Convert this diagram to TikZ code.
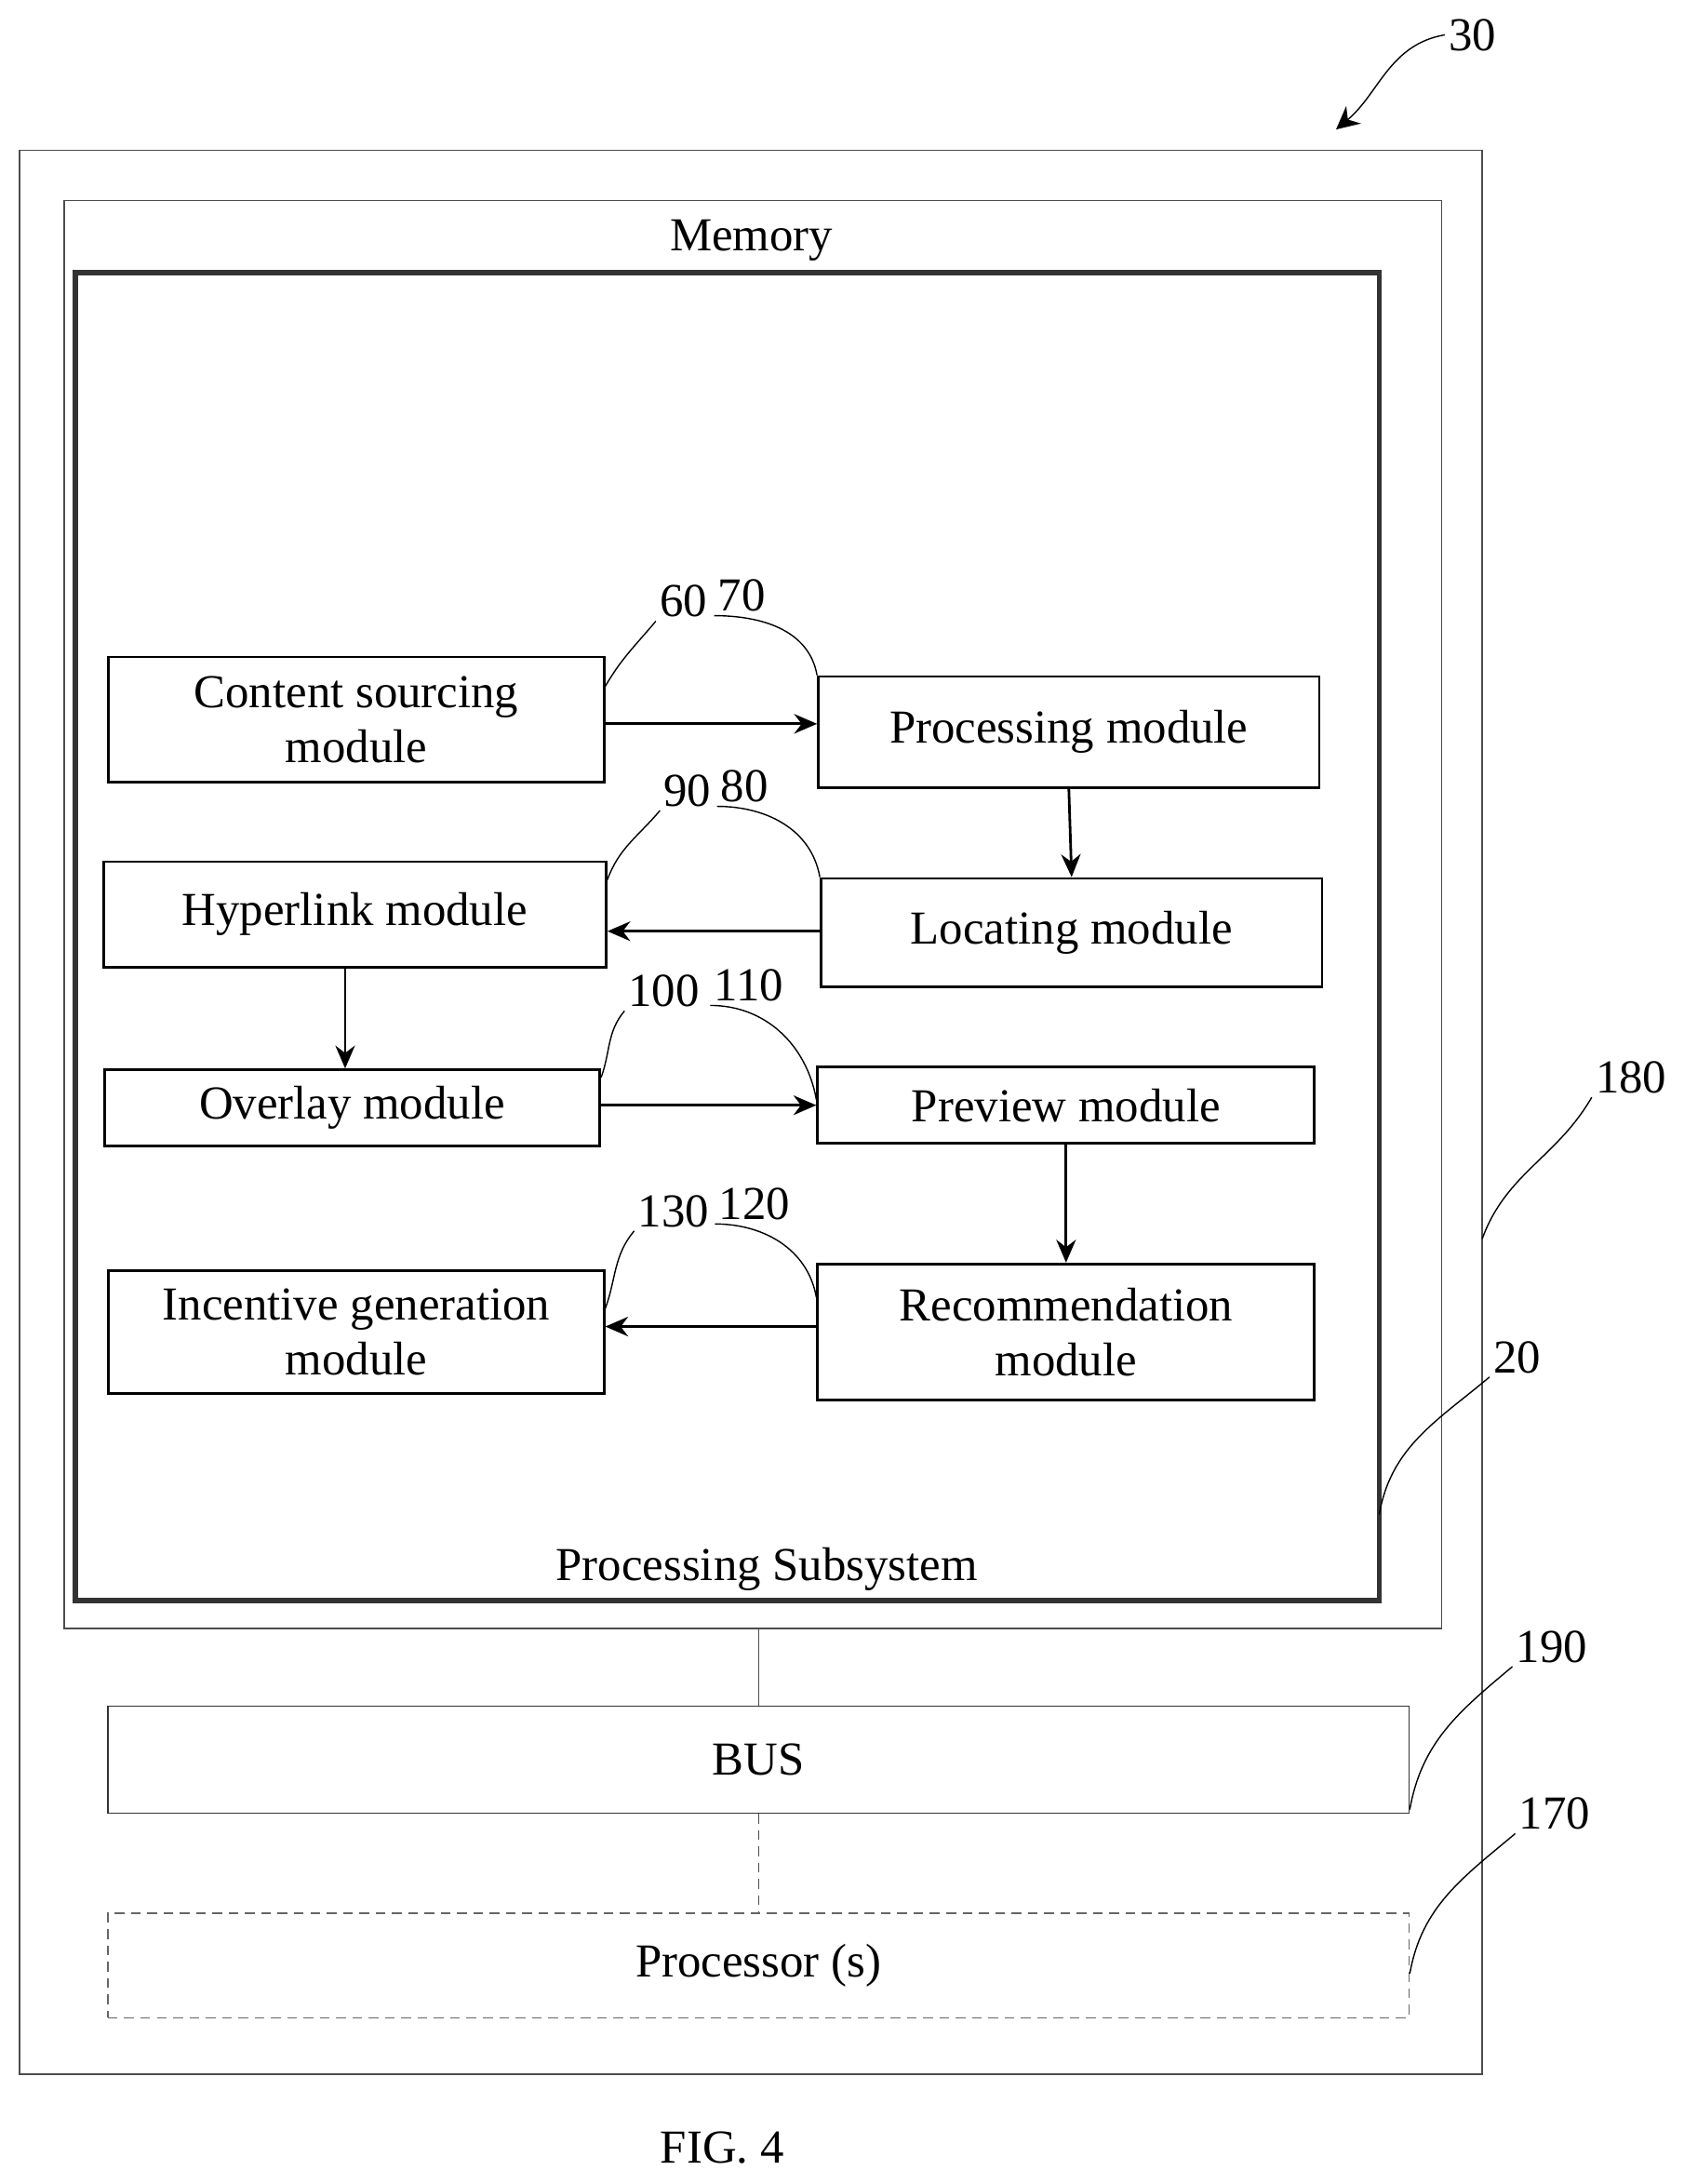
\documentclass[tikz,border=0pt]{standalone}
\usepackage{fontspec}
\setmainfont{Liberation Serif}
\usetikzlibrary{arrows.meta,positioning,calc}
\begin{document}
\begin{tikzpicture}
[x=0.015cm,y=-0.015cm,
font=\fontsize{14.5}{17}\selectfont,
module/.style={shape=rectangle,draw=black,thick,inner sep=2pt,align=center},
frame/.style={draw=black!70,thin},
myedge/.style={thick,-{Stealth[length=7pt,width=6pt]}},
lead/.style={thin},
num/.style={inner sep=1pt}]

\useasboundingbox (0,0) rectangle (1210,1569);

% frames
\draw[frame] (14,108) rectangle (1065,1490);
\node (mem) [frame,shape=rectangle,minimum width=990*0.015cm,minimum height=1026*0.015cm] at (541,657) {};
\node at (540,173) {Memory};
\draw[line width=1.6pt,black!80] (54,196) rectangle (991,1150);
\coordinate (sub) at (991,1088);
\node at (551,1127) {Processing Subsystem};

% modules
\node (cs) [module,minimum width=356*0.015cm,minimum height=90*0.015cm] at (256,517) {Content sourcing\\module};
\node (pm) [module,minimum width=360*0.015cm,minimum height=80*0.015cm] at (768,526) {Processing module};
\node (hm) [module,minimum width=361*0.015cm,minimum height=76*0.015cm] at (255,657) {Hyperlink module};
\node (lm) [module,minimum width=360*0.015cm,minimum height=78*0.015cm] at (770,670) {Locating module};
\node (om) [module,minimum width=356*0.015cm,minimum height=55*0.015cm] at (253,796) {Overlay module};
\node (vm) [module,minimum width=357*0.015cm,minimum height=55*0.015cm] at (766,794) {Preview module};
\node (im) [module,minimum width=356*0.015cm,minimum height=88*0.015cm] at (256,957) {Incentive generation\\module};
\node (rm) [module,minimum width=357*0.015cm,minimum height=98*0.015cm] at (766,957) {Recommendation\\module};

\draw[myedge] (cs.east |- 0,520) -- (pm.west |- 0,520);
\draw[myedge] (pm.south) -- (lm.north);
\draw[myedge] (lm.west |- 0,669) -- (hm.east |- 0,669);
\draw[myedge] (hm.south -| 248,0) -- (om.north -| 248,0);
\draw[myedge] (om.east |- 0,794) -- (vm.west |- 0,794);
\draw[myedge] (vm.south) -- (rm.north);
\draw[myedge] (rm.west |- 0,953) -- (im.east |- 0,953);

% bus and processor
\node (bus) [module,thin,draw=black!80,minimum width=935*0.015cm,minimum height=77*0.015cm] at (545,1264) {BUS};
\node (proc) [module,thin,draw=black!60,densely dashed,minimum width=935*0.015cm,minimum height=75*0.015cm] at (545,1412) {Processor (s)};
\draw[frame] (mem.south -| bus.north) -- (bus.north);
\draw[frame,densely dashed] (bus.south) -- (proc.north);

% reference numerals
\node (n60) [num] at (491,432) {60};
\node (n70) [num] at (533,428) {70};
\node (n90) [num] at (494,568) {90};
\node (n80) [num] at (535,565) {80};
\node (n100) [num] at (477,712) {100};
\node (n110) [num] at (538,708) {110};
\node (n130) [num] at (484,870) {130};
\node (n120) [num] at (542,865) {120};
\node (n180) [num] at (1172,774) {180};
\node (n20) [num] at (1090,975) {20};
\node (n190) [num] at (1115,1183) {190};
\node (n170) [num] at (1117,1303) {170};
\node (n30) [num] at (1058,25) {30};

\draw[lead] (n60.south west) to[out=230,in=60] (cs.north east |- 0,493);
\draw[lead] (n70.south west) to[out=0,in=100] (pm.north west);
\draw[lead] (n90.south west) to[out=230,in=70] (hm.north east |- 0,632);
\draw[lead] (n80.south west) to[out=0,in=100] (lm.north west);
\draw[lead] (n100.south west) to[out=230,in=70] (om.north east |- 0,774);
\draw[lead] (n110.south west) to[out=0,in=100] (vm.west |- 0,790);
\draw[lead] (n130.south west) to[out=230,in=70] (im.east |- 0,940);
\draw[lead] (n120.south west) to[out=0,in=100] (rm.west |- 0,932);
\draw[lead] (n180.south west) to[out=240,in=70] (1065,890);
\draw[lead] (n20.south west) to[out=220,in=80] (sub);
\draw[lead] (n190.south west) to[out=220,in=80] (bus.east |- 0,1300);
\draw[lead] (n170.south west) to[out=220,in=80] (proc.east |- 0,1418);
\draw[lead,-{Stealth[length=7pt,width=7pt]}] (n30.west) to[out=190,in=40] (960,93);

\node (fig) at (519,1543) {FIG. 4};
\end{tikzpicture}
\end{document}
